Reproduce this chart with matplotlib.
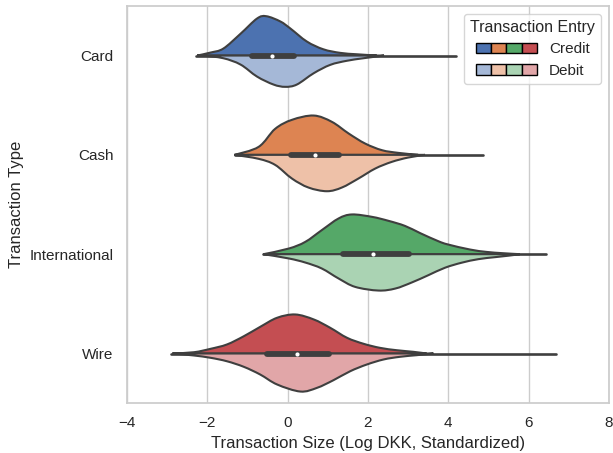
import matplotlib
matplotlib.use("Agg")
import matplotlib.pyplot as plt
import seaborn as sns
from matplotlib.patches import Rectangle, PathPatch
from matplotlib.path import Path
from matplotlib.legend_handler import HandlerBase

sns.set_theme(style="whitegrid")
plt.rcParams['font.family'] = ['Liberation Sans', 'DejaVu Sans']

types = ["Card", "Cash", "International", "Wire"]
entries = ["Credit", "Debit"]

# density profiles (x position, half width) for each split violin
credit_x = {
    "Card": [-2.25, -1.92, -1.6, -1.17, -0.76, -0.53, -0.18, 0.07, 0.48, 0.89, 1.31, 1.72, 2.22],
    "Cash": [-1.32, -0.72, -0.31, 0.11, 0.65, 1.10, 1.52, 1.93, 2.35, 2.76, 3.25],
    "International": [-0.6, 0.03, 0.44, 0.85, 1.27, 1.6, 2.1, 2.51, 2.92, 3.30, 3.75, 3.99, 4.54, 4.95, 5.36, 5.78],
    "Wire": [-2.87, -2.33, -1.92, -1.51, -1.09, -0.68, -0.26, 0.19, 0.65, 1.06, 1.48, 1.89, 2.3, 2.72, 3.13, 3.46],
}
credit_w = {
    "Card": [0, 0.03, 0.07, 0.22, 0.373, 0.396, 0.343, 0.272, 0.141, 0.063, 0.027, 0.013, 0],
    "Cash": [0, 0.081, 0.262, 0.353, 0.396, 0.333, 0.215, 0.114, 0.047, 0.02, 0],
    "International": [0, 0.057, 0.124, 0.242, 0.36, 0.4, 0.376, 0.336, 0.285, 0.212, 0.131, 0.098, 0.047, 0.023, 0.01, 0],
    "Wire": [0, 0.013, 0.047, 0.091, 0.174, 0.269, 0.36, 0.393, 0.343, 0.259, 0.158, 0.098, 0.057, 0.033, 0.017, 0],
}
debit_x = {
    "Card": [-2.1, -1.6, -1.17, -0.76, -0.35, -0.06, 0.23, 0.65, 1.06, 1.47, 1.89, 2.4],
    "Cash": [-1.32, -0.72, -0.31, 0.11, 0.52, 0.98, 1.35, 1.76, 2.18, 2.59, 3.0, 3.42],
    "International": [-0.6, 0.03, 0.44, 0.85, 1.27, 1.68, 2.26, 2.68, 3.09, 3.5, 3.92, 4.33, 4.75, 5.16, 5.5, 5.78],
    "Wire": [-2.83, -2.33, -1.92, -1.51, -1.09, -0.68, -0.26, 0.32, 0.73, 1.14, 1.56, 1.97, 2.39, 2.8, 3.21, 3.63],
}
debit_w = {
    "Card": [0, 0.027, 0.091, 0.212, 0.292, 0.315, 0.292, 0.178, 0.094, 0.053, 0.027, 0],
    "Cash": [0, 0.04, 0.101, 0.239, 0.329, 0.366, 0.329, 0.239, 0.138, 0.071, 0.027, 0],
    "International": [0, 0.043, 0.084, 0.144, 0.245, 0.329, 0.366, 0.346, 0.285, 0.212, 0.136, 0.086, 0.05, 0.03, 0.015, 0],
    "Wire": [0, 0.02, 0.043, 0.078, 0.134, 0.212, 0.312, 0.383, 0.346, 0.269, 0.178, 0.111, 0.06, 0.033, 0.017, 0],
}

# inner box summary per transaction type
q1 = [-0.88, 0.08, 1.37, -0.51]
median = [-0.39, 0.67, 2.13, 0.23]
q3 = [0.17, 1.28, 3.01, 1.02]
low = [-2.27, -1.32, -0.6, -2.9]
high = [4.2, 4.87, 6.43, 6.69]

credit_colors = ["#4C72B0", "#DD8452", "#55A868", "#C44E52"]
debit_colors = ["#A5B8D7", "#EEC1A8", "#AAD3B3", "#E1A6A8"]
line_color = "#3f3f3f"


def half_violin(xs, ws, pos, sign):
    """Closed path: smooth outline through the profile points, flat side on pos."""
    pts = [(x, pos + sign * w) for x, w in zip(xs, ws)]
    verts = [pts[0]]
    codes = [Path.MOVETO]
    n = len(pts)
    for k in range(n - 1):
        p0 = pts[max(k - 1, 0)]
        p1 = pts[k]
        p2 = pts[k + 1]
        p3 = pts[min(k + 2, n - 1)]
        c1 = (p1[0] + (p2[0] - p0[0]) / 6, p1[1] + (p2[1] - p0[1]) / 6)
        c2 = (p2[0] - (p3[0] - p1[0]) / 6, p2[1] - (p3[1] - p1[1]) / 6)
        verts += [c1, c2, p2]
        codes += [Path.CURVE4] * 3
    verts += [(xs[-1], pos), (xs[0], pos), pts[0]]
    codes += [Path.LINETO, Path.LINETO, Path.CLOSEPOLY]
    return Path(verts, codes)


class ColorStrip:
    def __init__(self, colors):
        self.colors = colors


class StripHandler(HandlerBase):
    def create_artists(self, legend, orig_handle, xdescent, ydescent,
                       width, height, fontsize, trans):
        n = len(orig_handle.colors)
        w = width / n
        return [Rectangle((-xdescent + k * w, -ydescent), w, height,
                          facecolor=c, edgecolor="black", lw=1, transform=trans)
                for k, c in enumerate(orig_handle.colors)]


fig, ax = plt.subplots(figsize=(6.13, 4.53), dpi=100)
fig.subplots_adjust(left=0.207, right=0.9935, top=0.987, bottom=0.11)

for i, t in enumerate(types):
    ax.plot([low[i], high[i]], [i, i], color=line_color, lw=1.9, zorder=1)
    # credit half sits above the category line, debit half below (y axis is inverted)
    ax.add_patch(PathPatch(half_violin(credit_x[t], credit_w[t], i, -1),
                           facecolor=credit_colors[i], edgecolor=line_color, lw=1.5, zorder=2))
    ax.add_patch(PathPatch(half_violin(debit_x[t], debit_w[t], i, 1),
                           facecolor=debit_colors[i], edgecolor=line_color, lw=1.5, zorder=2))
    ax.plot([q1[i], q3[i]], [i, i], color=line_color, lw=4.2,
            solid_capstyle="round", zorder=3)
    ax.scatter([median[i]], [i], s=9, color="white", zorder=4, linewidths=0)

ax.set_xlim(-4, 8)
ax.set_ylim(3.5, -0.5)
ax.set_xticks(range(-4, 9, 2))
ax.set_yticks(range(len(types)))
ax.set_yticklabels(types)
ax.yaxis.grid(False)
ax.tick_params(labelsize=11)
ax.set_xlabel("Transaction Size (Log DKK, Standardized)", fontsize=12)
ax.set_ylabel("Transaction Type", fontsize=12)

ax.legend([ColorStrip(credit_colors), ColorStrip(debit_colors)], entries,
          handler_map={ColorStrip: StripHandler()}, title="Transaction Entry",
          loc="upper right", handlelength=4, fontsize=11, title_fontsize=11.5)

fig.savefig("out.png", dpi=100)
